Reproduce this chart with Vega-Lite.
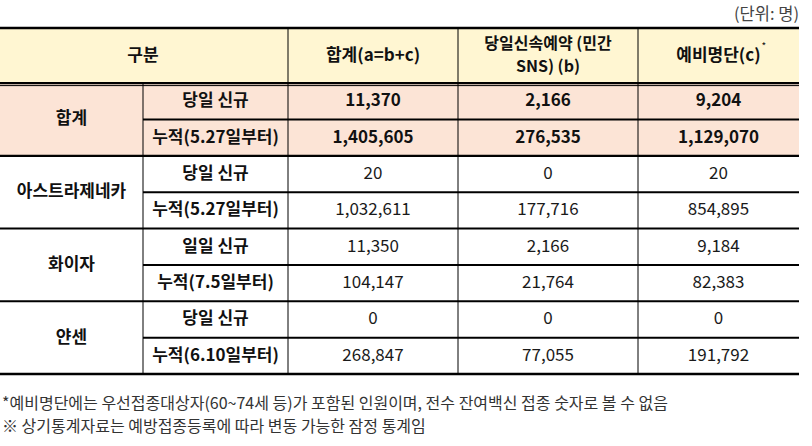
{
  "$schema": "https://vega.github.io/schema/vega-lite/v6.json",
  "width": 812,
  "height": 446,
  "autosize": {"type": "none"},
  "padding": 0,
  "background": "white",
  "config": {"view": {"stroke": null}, "text": {"font": "Noto Sans CJK KR"}},
  "datasets": {
    "fills": [
      {"c0": 0, "c1": 5, "r0": 0, "r1": 1, "kind": "header"},
      {"c0": 0, "c1": 5, "r0": 1, "r1": 3, "kind": "total"}
    ],
    "hlines": [
      {"r": 0, "c0": 0, "c1": 5, "w": "border"},
      {"r": 1, "c0": 0, "c1": 5, "w": "section"},
      {"r": 2, "c0": 1, "c1": 5, "w": "inner"},
      {"r": 3, "c0": 0, "c1": 5, "w": "section"},
      {"r": 4, "c0": 1, "c1": 5, "w": "inner"},
      {"r": 5, "c0": 0, "c1": 5, "w": "inner"},
      {"r": 6, "c0": 1, "c1": 5, "w": "inner"},
      {"r": 7, "c0": 0, "c1": 5, "w": "inner"},
      {"r": 8, "c0": 1, "c1": 5, "w": "inner"},
      {"r": 9, "c0": 0, "c1": 5, "w": "border"}
    ],
    "vlines": [
      {"c": 1, "r0": 1, "r1": 9},
      {"c": 2, "r0": 0, "r1": 9},
      {"c": 3, "r0": 0, "r1": 9},
      {"c": 4, "r0": 0, "r1": 9}
    ],
    "cells": [
      {"cx": 1, "ry": 0.5, "t": "구분", "g": "h"},
      {"cx": 2.5, "ry": 0.5, "t": "합계(a=b+c)", "g": "h"},
      {"cx": 4.5, "ry": 0.5, "t": "예비명단(c)", "g": "h"},
      {"cx": 0.5, "ry": 2, "t": "합계", "g": "l"},
      {"cx": 0.5, "ry": 4, "t": "아스트라제네카", "g": "l"},
      {"cx": 0.5, "ry": 6, "t": "화이자", "g": "l"},
      {"cx": 0.5, "ry": 8, "t": "얀센", "g": "l"},
      {"cx": 1.5, "ry": 1.5, "t": "당일 신규", "g": "l"},
      {"cx": 1.5, "ry": 2.5, "t": "누적(5.27일부터)", "g": "l"},
      {"cx": 1.5, "ry": 3.5, "t": "당일 신규", "g": "l"},
      {"cx": 1.5, "ry": 4.5, "t": "누적(5.27일부터)", "g": "l"},
      {"cx": 1.5, "ry": 5.5, "t": "일일 신규", "g": "l"},
      {"cx": 1.5, "ry": 6.5, "t": "누적(7.5일부터)", "g": "l"},
      {"cx": 1.5, "ry": 7.5, "t": "당일 신규", "g": "l"},
      {"cx": 1.5, "ry": 8.5, "t": "누적(6.10일부터)", "g": "l"},
      {"cx": 2.5, "ry": 1.5, "t": "11,370", "g": "t"},
      {"cx": 3.5, "ry": 1.5, "t": "2,166", "g": "t"},
      {"cx": 4.5, "ry": 1.5, "t": "9,204", "g": "t"},
      {"cx": 2.5, "ry": 2.5, "t": "1,405,605", "g": "t"},
      {"cx": 3.5, "ry": 2.5, "t": "276,535", "g": "t"},
      {"cx": 4.5, "ry": 2.5, "t": "1,129,070", "g": "t"},
      {"cx": 2.5, "ry": 3.5, "t": "20", "g": "v"},
      {"cx": 3.5, "ry": 3.5, "t": "0", "g": "v"},
      {"cx": 4.5, "ry": 3.5, "t": "20", "g": "v"},
      {"cx": 2.5, "ry": 4.5, "t": "1,032,611", "g": "v"},
      {"cx": 3.5, "ry": 4.5, "t": "177,716", "g": "v"},
      {"cx": 4.5, "ry": 4.5, "t": "854,895", "g": "v"},
      {"cx": 2.5, "ry": 5.5, "t": "11,350", "g": "v"},
      {"cx": 3.5, "ry": 5.5, "t": "2,166", "g": "v"},
      {"cx": 4.5, "ry": 5.5, "t": "9,184", "g": "v"},
      {"cx": 2.5, "ry": 6.5, "t": "104,147", "g": "v"},
      {"cx": 3.5, "ry": 6.5, "t": "21,764", "g": "v"},
      {"cx": 4.5, "ry": 6.5, "t": "82,383", "g": "v"},
      {"cx": 2.5, "ry": 7.5, "t": "0", "g": "v"},
      {"cx": 3.5, "ry": 7.5, "t": "0", "g": "v"},
      {"cx": 4.5, "ry": 7.5, "t": "0", "g": "v"},
      {"cx": 2.5, "ry": 8.5, "t": "268,847", "g": "v"},
      {"cx": 3.5, "ry": 8.5, "t": "77,055", "g": "v"},
      {"cx": 4.5, "ry": 8.5, "t": "191,792", "g": "v"}
    ],
    "twoline": [
      {"cx": 3.5, "ry": 0.5, "t": "당일신속예약 (민간", "line": 1},
      {"cx": 3.5, "ry": 0.5, "t": "SNS) (b)", "line": 2}
    ],
    "notes": [
      {"cx": 0, "ry": 10, "t": "*예비명단에는 우선접종대상자(60~74세 등)가 포함된 인원이며, 전수 잔여백신 접종 숫자로 볼 수 없음"},
      {"cx": 0, "ry": 11, "t": "※ 상기통계자료는 예방접종등록에 따라 변동 가능한 잠정 통계임"}
    ],
    "unit": [{"cx": 5, "ry": -0.5, "t": "(단위: 명)"}],
    "star": [{"cx": 4.5, "ry": 0.5, "t": "*"}]
  },
  "layer": [
    {
      "data": {"name": "fills"},
      "mark": {"type": "rect"},
      "encoding": {
        "x": {"field": "c0", "type": "quantitative", "axis": null, "scale": {"type": "linear", "domain": [0, 1, 2, 3, 4, 5], "range": [0, 143, 288, 458, 638, 799], "zero": false, "nice": false}},
        "x2": {"field": "c1"},
        "y": {"field": "r0", "type": "quantitative", "axis": null, "scale": {"type": "linear", "domain": [-1, 0, 1, 9, 10, 11], "range": [2, 28, 83, 374, 404, 427], "zero": false, "nice": false}},
        "y2": {"field": "r1"},
        "color": {"field": "kind", "type": "nominal", "legend": null, "scale": {"domain": ["header", "total"], "range": ["#FFF6D2", "#FCE4D6"]}}
      }
    },
    {
      "data": {"name": "hlines"},
      "mark": {"type": "rule", "color": "black"},
      "encoding": {
        "x": {"field": "c0", "type": "quantitative", "axis": null},
        "x2": {"field": "c1"},
        "y": {"field": "r", "type": "quantitative", "axis": null},
        "strokeWidth": {"field": "w", "type": "nominal", "legend": null, "scale": {"domain": ["border", "section", "inner"], "range": [2.5, 2, 1]}}
      }
    },
    {
      "data": {"name": "hlines"},
      "transform": [{"filter": "datum.r == 1"}],
      "mark": {"type": "rule", "color": "black", "strokeWidth": 1, "yOffset": 2.6},
      "encoding": {
        "x": {"field": "c0", "type": "quantitative", "axis": null},
        "x2": {"field": "c1"},
        "y": {"field": "r", "type": "quantitative", "axis": null}
      }
    },
    {
      "data": {"name": "vlines"},
      "mark": {"type": "rule", "color": "black", "strokeWidth": 1},
      "encoding": {
        "x": {"field": "c", "type": "quantitative", "axis": null},
        "y": {"field": "r0", "type": "quantitative", "axis": null},
        "y2": {"field": "r1"}
      }
    },
    {
      "data": {"name": "cells"},
      "transform": [{"filter": "datum.g != 'v'"}],
      "mark": {"type": "text", "fontSize": 17, "fontWeight": "bold", "color": "#111", "align": "center", "baseline": "middle"},
      "encoding": {
        "x": {"field": "cx", "type": "quantitative", "axis": null},
        "y": {"field": "ry", "type": "quantitative", "axis": null},
        "text": {"field": "t", "type": "nominal"}
      }
    },
    {
      "data": {"name": "twoline"},
      "transform": [{"filter": "datum.line == 1"}],
      "mark": {"type": "text", "fontSize": 16, "fontWeight": "bold", "color": "#111", "align": "center", "baseline": "middle", "dy": -11.5},
      "encoding": {
        "x": {"field": "cx", "type": "quantitative", "axis": null},
        "y": {"field": "ry", "type": "quantitative", "axis": null},
        "text": {"field": "t", "type": "nominal"}
      }
    },
    {
      "data": {"name": "twoline"},
      "transform": [{"filter": "datum.line == 2"}],
      "mark": {"type": "text", "fontSize": 16, "fontWeight": "bold", "color": "#111", "align": "center", "baseline": "middle", "dy": 11.5},
      "encoding": {
        "x": {"field": "cx", "type": "quantitative", "axis": null},
        "y": {"field": "ry", "type": "quantitative", "axis": null},
        "text": {"field": "t", "type": "nominal"}
      }
    },
    {
      "data": {"name": "cells"},
      "transform": [{"filter": "datum.g == 'v'"}],
      "mark": {"type": "text", "fontSize": 17, "color": "#1a1a1a", "align": "center", "baseline": "middle"},
      "encoding": {
        "x": {"field": "cx", "type": "quantitative", "axis": null},
        "y": {"field": "ry", "type": "quantitative", "axis": null},
        "text": {"field": "t", "type": "nominal"}
      }
    },
    {
      "data": {"name": "star"},
      "mark": {"type": "text", "fontSize": 10, "color": "#111", "align": "left", "baseline": "middle", "dx": 43, "dy": -9},
      "encoding": {
        "x": {"field": "cx", "type": "quantitative", "axis": null},
        "y": {"field": "ry", "type": "quantitative", "axis": null},
        "text": {"field": "t", "type": "nominal"}
      }
    },
    {
      "data": {"name": "unit"},
      "mark": {"type": "text", "fontSize": 16.5, "color": "#444", "align": "right", "baseline": "middle"},
      "encoding": {
        "x": {"field": "cx", "type": "quantitative", "axis": null},
        "y": {"field": "ry", "type": "quantitative", "axis": null},
        "text": {"field": "t", "type": "nominal"}
      }
    },
    {
      "data": {"name": "notes"},
      "mark": {"type": "text", "fontSize": 16, "color": "#333", "align": "left", "baseline": "middle", "dx": 2},
      "encoding": {
        "x": {"field": "cx", "type": "quantitative", "axis": null},
        "y": {"field": "ry", "type": "quantitative", "axis": null},
        "text": {"field": "t", "type": "nominal"}
      }
    }
  ]
}
